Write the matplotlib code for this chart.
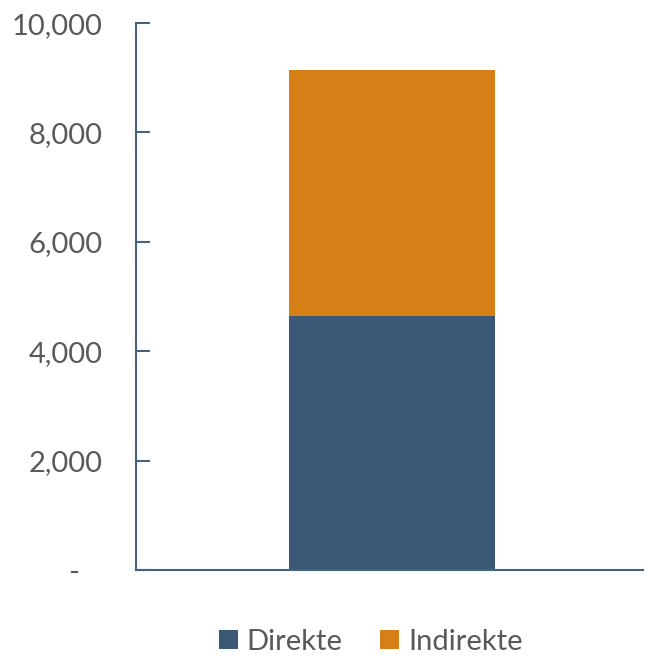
import matplotlib.pyplot as plt
from matplotlib.ticker import FuncFormatter

# data
categories = ['']
direkte = [4645]
indirekte = [4495]
series_names = ['Direkte', 'Indirekte']
yticks = [0, 2000, 4000, 6000, 8000, 10000]

blue = '#3B5876'
orange = '#D77F17'
axis_col = '#44617F'
text_col = '#595959'

plt.rcParams['font.family'] = ['Lato', 'DejaVu Sans']

fig = plt.figure(figsize=(6.46, 6.59), dpi=100)
ax = fig.add_axes([0.2105, 0.135, 0.785, 0.83])

x = [0.505]
ax.bar(x, direkte, width=0.406, color=blue, label=series_names[0])
ax.bar(x, indirekte, width=0.406, bottom=direkte, color=orange, label=series_names[1])

ax.set_xlim(0, 1)
ax.set_ylim(0, 10000)
ax.set_yticks(yticks)

def fmt(v, pos):
    if v == 0:
        return '-   '
    return f'{int(v):,}'

ax.yaxis.set_major_formatter(FuncFormatter(fmt))
ax.set_xticks([])

for s in ['top', 'right']:
    ax.spines[s].set_visible(False)
for s in ['left', 'bottom']:
    ax.spines[s].set_color(axis_col)
    ax.spines[s].set_linewidth(1.5)

ax.tick_params(axis='y', direction='in', length=10, width=1.5, color=axis_col,
               labelsize=21, labelcolor=text_col, pad=24)

leg = fig.legend(loc='center', bbox_to_anchor=(0.574, 0.026), ncol=2, frameon=False,
                 fontsize=21, handlelength=0.65, handleheight=0.65, handletextpad=0.3,
                 columnspacing=1.3, borderpad=0.1)
for t in leg.get_texts():
    t.set_color(text_col)

fig.savefig('out.png', dpi=100)
